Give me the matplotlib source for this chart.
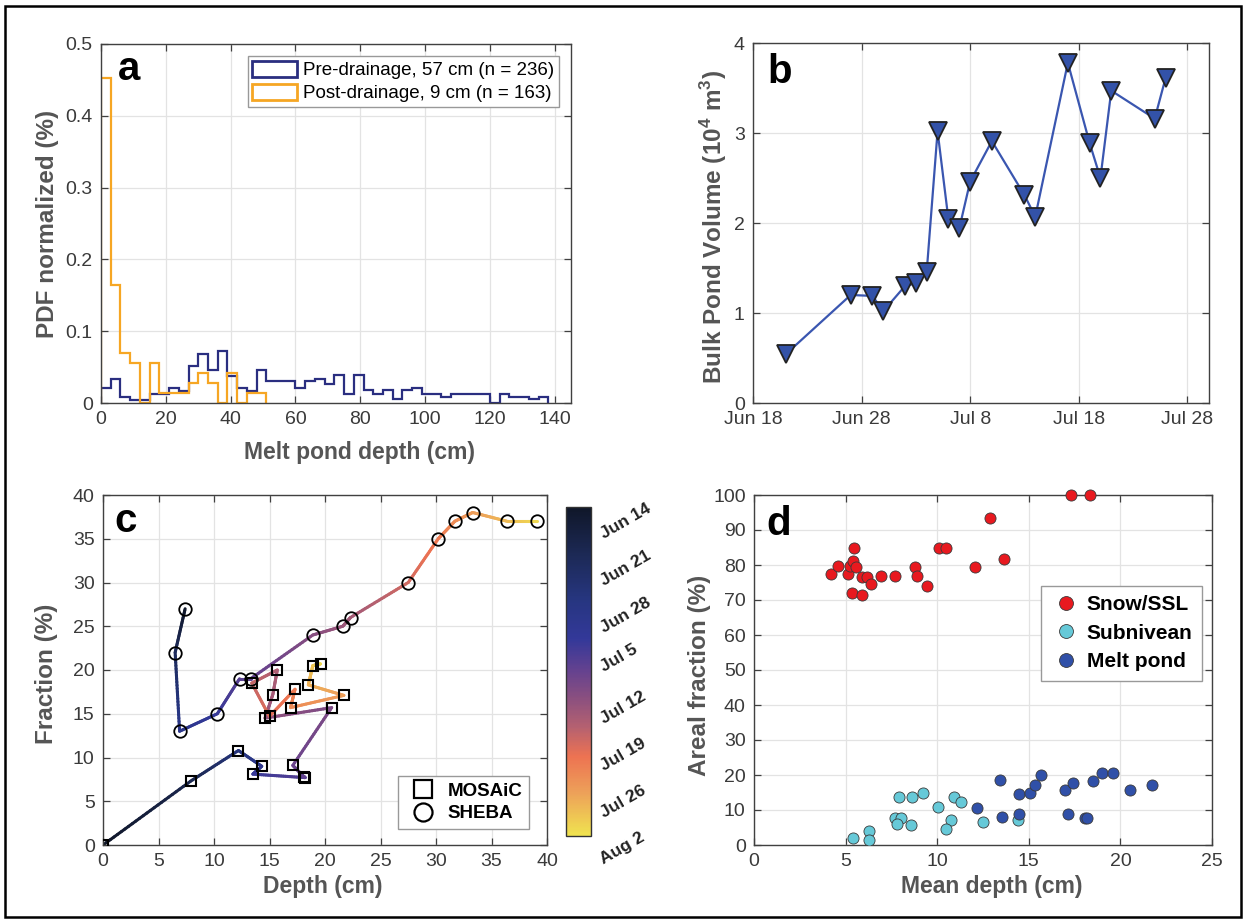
import numpy as np
import matplotlib
matplotlib.use('Agg')
import matplotlib.pyplot as plt
import matplotlib.dates as mdates
from matplotlib.collections import LineCollection
from matplotlib.colors import LinearSegmentedColormap, Normalize
from matplotlib.patches import Rectangle, Patch
from matplotlib.lines import Line2D
from matplotlib.ticker import FuncFormatter
import datetime as dt

plt.rcParams['font.family'] = ['Liberation Sans', 'DejaVu Sans']
plt.rcParams['mathtext.fontset'] = 'custom'
plt.rcParams['mathtext.rm'] = 'Liberation Sans'
plt.rcParams['mathtext.bf'] = 'Liberation Sans:bold'

# ---------------- data ----------------
# panel a: histogram (bin width 3 cm)
bin_width = 3
pre_drainage = [0.021, 0.034, 0.008, 0.004, 0.004, 0.013, 0.013, 0.021, 0.017, 0.051,
                0.068, 0.046, 0.072, 0.038, 0.021, 0.017, 0.046, 0.030, 0.030, 0.030,
                0.021, 0.030, 0.034, 0.026, 0.039, 0.012, 0.039, 0.018, 0.013, 0.018,
                0.005, 0.018, 0.021, 0.013, 0.013, 0.008, 0.013, 0.013, 0.013, 0.013,
                0.0, 0.013, 0.008, 0.008, 0.005, 0.008]
post_drainage = [0.453, 0.165, 0.069, 0.056, 0.0, 0.056, 0.014, 0.014, 0.014, 0.028,
                 0.042, 0.028, 0.0, 0.042, 0.0, 0.014, 0.014]
legend_a = ['Pre-drainage, 57 cm (n = 236)', 'Post-drainage, 9 cm (n = 163)']

# panel b: bulk pond volume
b_dates = ['2020-06-21', '2020-06-27', '2020-06-29', '2020-06-30', '2020-07-02',
           '2020-07-03', '2020-07-04', '2020-07-05', '2020-07-06', '2020-07-07',
           '2020-07-08', '2020-07-10', '2020-07-13', '2020-07-14', '2020-07-17',
           '2020-07-19', '2020-07-20', '2020-07-21', '2020-07-25', '2020-07-26']
b_volume = [0.54, 1.20, 1.19, 1.02, 1.30, 1.33, 1.46, 3.02, 2.04, 1.94,
            2.46, 2.91, 2.31, 2.07, 3.78, 2.89, 2.50, 3.47, 3.16, 3.61]

# panel c: depth vs fraction, colored by days since Jun 14
mosaic_depth = [0.0, 7.9, 12.2, 14.3, 13.5, 18.2, 18.1, 17.1, 20.6, 14.6,
                15.3, 15.7, 13.4, 15.0, 17.3, 16.9, 21.7, 18.5, 18.9, 19.6]
mosaic_frac = [0.0, 7.3, 10.8, 9.0, 8.1, 7.7, 7.8, 9.1, 15.7, 14.5,
               17.2, 20.0, 18.5, 14.7, 17.8, 15.7, 17.1, 18.3, 20.5, 20.7]
mosaic_day = [0, 6, 13, 17, 20, 23, 24, 25, 27, 29,
              31, 32, 34, 36, 38, 40, 42, 44, 46, 48]
sheba_depth = [7.4, 6.5, 6.9, 10.3, 12.3, 13.3, 18.9, 21.6, 22.3, 27.5,
               30.2, 31.7, 33.3, 36.4, 39.1]
sheba_frac = [27, 22, 13, 15, 19, 19, 24, 25, 26, 30, 35, 37, 38, 37, 37]
sheba_day = [0, 8, 16, 20, 23, 24, 28, 30, 31, 35, 38, 40, 42, 45, 48]
cbar_days = [0, 7, 14, 21, 28, 35, 42, 49]
cbar_labels = ['Jun 14', 'Jun 21', 'Jun 28', 'Jul 5', 'Jul 12', 'Jul 19', 'Jul 26', 'Aug 2']

# panel d: areal fraction vs mean depth
snow_depth = [4.23, 4.59, 5.15, 5.23, 5.41, 5.44, 5.55, 5.37, 5.92, 5.92, 6.17, 6.41,
              6.91, 7.68, 8.77, 8.91, 9.46, 10.09, 10.49, 12.07, 12.88, 13.64, 17.3, 18.32]
snow_frac = [77.4, 79.8, 77.4, 79.8, 81.2, 85.0, 79.5, 71.9, 71.4, 76.7, 76.7, 74.6,
             77.0, 76.9, 79.5, 77.0, 74.1, 85.0, 85.0, 79.3, 93.3, 81.6, 100, 100]
sub_depth = [5.41, 6.28, 6.28, 7.89, 8.64, 9.22, 7.68, 8.04, 7.80, 8.58, 10.04,
             10.91, 11.31, 10.73, 10.49, 12.49, 14.42]
sub_frac = [1.9, 4.1, 1.4, 13.6, 13.6, 14.8, 7.6, 7.6, 6.0, 5.7, 11.0,
            13.8, 12.2, 7.1, 4.5, 6.7, 7.1]
pond_depth = [12.15, 13.41, 13.55, 14.46, 14.46, 15.04, 15.36, 15.67, 17.0, 17.4,
              17.12, 18.08, 18.17, 18.53, 18.99, 19.58, 20.54, 21.72]
pond_frac = [10.7, 18.6, 8.1, 14.5, 9.0, 14.8, 17.1, 20.0, 15.7, 17.8,
             9.0, 7.8, 7.6, 18.3, 20.5, 20.7, 15.7, 17.1]

# ---------------- style ----------------
TICK_C = '#3a3a3a'
LAB_C = '#555555'
SPINE_C = '#404040'
GRID_C = '#e3e3e3'
TICK_FS = 14
LAB_FS = 16.5

cmap = LinearSegmentedColormap.from_list('thermal_like', [
    (0.00, (0.06, 0.09, 0.16)),
    (0.14, (0.11, 0.16, 0.33)),
    (0.28, (0.15, 0.21, 0.50)),
    (0.40, (0.20, 0.22, 0.60)),
    (0.50, (0.40, 0.26, 0.56)),
    (0.58, (0.54, 0.31, 0.50)),
    (0.67, (0.71, 0.38, 0.44)),
    (0.76, (0.93, 0.45, 0.32)),
    (0.87, (0.93, 0.63, 0.35)),
    (1.00, (0.94, 0.89, 0.31)),
])
norm = Normalize(0, 49)

fig = plt.figure(figsize=(12.47, 9.23), dpi=100)


def style_axes(ax):
    ax.set_axisbelow(True)
    ax.grid(True, color=GRID_C, lw=0.9)
    ax.tick_params(direction='in', top=True, right=True, length=5, width=0.9,
                   color=SPINE_C, labelcolor=TICK_C, labelsize=TICK_FS, pad=6)
    for s in ax.spines.values():
        s.set_color(SPINE_C)
        s.set_linewidth(1.0)


def panel_letter(ax, x, y, s):
    ax.text(x, y, s, transform=ax.transAxes, fontsize=29, fontweight='bold',
            color='black', va='baseline', ha='left')


# ---------------- panel a ----------------
ax_a = fig.add_axes([101/1247, 1-403/923, 470/1247, 359/923])
style_axes(ax_a)
pre_c = '#2a2e80'
post_c = '#f6a623'
edges_pre = np.arange(len(pre_drainage)+1) * bin_width
edges_post = np.arange(len(post_drainage)+1) * bin_width
ax_a.stairs(pre_drainage, edges_pre, color=pre_c, lw=1.6, baseline=0)
ax_a.stairs(post_drainage, edges_post, color=post_c, lw=1.6, baseline=0)
ax_a.set_xlim(0, 145)
ax_a.set_ylim(0, 0.5)
ax_a.set_xticks(np.arange(0, 141, 20))
ax_a.set_yticks(np.arange(0, 0.51, 0.1))
ax_a.yaxis.set_major_formatter(FuncFormatter(lambda v, p: '0' if v == 0 else f'{v:.1f}'))
ax_a.set_xlabel('Melt pond depth (cm)', fontsize=LAB_FS, fontweight='bold', color=LAB_C)
ax_a.set_ylabel('PDF normalized (%)', fontsize=LAB_FS + 1, fontweight='bold', color=LAB_C)
ax_a.xaxis.set_label_coords(0.55, -0.105)
ax_a.yaxis.set_label_coords(-0.09, 0.5)
handles_a = [Patch(facecolor='none', edgecolor=pre_c, lw=2),
             Patch(facecolor='none', edgecolor=post_c, lw=2)]
leg = ax_a.legend(handles_a, legend_a, loc='upper right', bbox_to_anchor=(0.974, 0.967),
                  borderaxespad=0, fontsize=13.5, fancybox=False, edgecolor='#999999',
                  framealpha=1, handlelength=2.4, handleheight=0.95, handletextpad=0.3,
                  borderpad=0.25, labelspacing=0.25)
leg.get_frame().set_linewidth(1.0)
panel_letter(ax_a, 0.036, 0.90, 'a')

# ---------------- panel b ----------------
ax_b = fig.add_axes([753/1247, 1-403/923, 456/1247, 360/923])
style_axes(ax_b)
dates_b = [dt.datetime.strptime(d, '%Y-%m-%d') for d in b_dates]
ax_b.plot(dates_b, b_volume, '-v', color='#3a56b0', lw=1.6, ms=12.5,
          mfc='#3352a8', mec='#222222', mew=1.3)
ax_b.set_xlim(dt.datetime(2020, 6, 18), dt.datetime(2020, 7, 30))
ax_b.set_ylim(0, 4)
ax_b.set_yticks([0, 1, 2, 3, 4])
ax_b.set_xticks([dt.datetime(2020, 6, 18) + dt.timedelta(days=10*i) for i in range(5)])
ax_b.xaxis.set_major_formatter(FuncFormatter(
    lambda v, p: f"{mdates.num2date(v):%b} {mdates.num2date(v).day}"))
ax_b.set_ylabel(r'Bulk Pond Volume (10$^{\mathbf{4}}$ m$^{\mathbf{3}}$)', fontsize=LAB_FS + 1,
                fontweight='bold', color=LAB_C)
ax_b.yaxis.set_label_coords(-0.052, 0.49)
panel_letter(ax_b, 0.031, 0.889, 'b')

# ---------------- panel c ----------------
ax_c = fig.add_axes([103/1247, 1-845/923, 444/1247, 350/923])
style_axes(ax_c)


def gradient_line(ax, xs, ys, days, lw=2.2, n=24):
    segs, vals = [], []
    for i in range(len(xs)-1):
        for k in range(n):
            t0, t1 = k/n, (k+1)/n
            x0 = xs[i] + (xs[i+1]-xs[i])*t0
            x1 = xs[i] + (xs[i+1]-xs[i])*t1
            y0 = ys[i] + (ys[i+1]-ys[i])*t0
            y1 = ys[i] + (ys[i+1]-ys[i])*t1
            segs.append([(x0, y0), (x1, y1)])
            vals.append(days[i] + (days[i+1]-days[i])*(t0+t1)/2)
    lc = LineCollection(segs, cmap=cmap, norm=norm, linewidths=lw, capstyle='round')
    lc.set_array(np.array(vals))
    ax.add_collection(lc)


gradient_line(ax_c, mosaic_depth, mosaic_frac, mosaic_day)
gradient_line(ax_c, sheba_depth, sheba_frac, sheba_day)
ax_c.plot(mosaic_depth, mosaic_frac, 's', mfc='none', mec='k', ms=7, mew=1.5, zorder=3)
ax_c.plot(sheba_depth, sheba_frac, 'o', mfc='none', mec='k', ms=9, mew=1.3, zorder=3)
ax_c.set_xlim(0, 40)
ax_c.set_ylim(0, 40)
ax_c.set_xticks(np.arange(0, 41, 5))
ax_c.set_yticks(np.arange(0, 41, 5))
ax_c.set_xlabel('Depth (cm)', fontsize=LAB_FS, fontweight='bold', color=LAB_C)
ax_c.set_ylabel('Fraction (%)', fontsize=LAB_FS + 1, fontweight='bold', color=LAB_C)
ax_c.xaxis.set_label_coords(0.495, -0.086)
ax_c.yaxis.set_label_coords(-0.102, 0.49)
handles_c = [Line2D([], [], ls='none', marker='s', mfc='none', mec='k', ms=13, mew=1.6),
             Line2D([], [], ls='none', marker='o', mfc='none', mec='k', ms=13, mew=1.6)]
leg_c = ax_c.legend(handles_c, ['MOSAiC', 'SHEBA'], loc='lower right',
                    bbox_to_anchor=(0.959, 0.046), borderaxespad=0, fancybox=False,
                    edgecolor='#999999', framealpha=1, handletextpad=0.3,
                    borderpad=0.35, labelspacing=0.3, prop={'size': 13.5, 'weight': 'bold'})
leg_c.get_frame().set_linewidth(1.0)
panel_letter(ax_c, 0.025, 0.894, 'c')

# colorbar
cax = fig.add_axes([566/1247, 1-836/923, 25/1247, 329/923])
sm = plt.cm.ScalarMappable(cmap=cmap, norm=norm)
cb = fig.colorbar(sm, cax=cax)
cb.ax.invert_yaxis()
cb.set_ticks(cbar_days)
cb.set_ticklabels(cbar_labels)
cb.ax.tick_params(length=0, pad=5)
for t in cb.ax.get_yticklabels():
    t.set_rotation(30)
    t.set_fontweight('bold')
    t.set_fontsize(12.5)
    t.set_color('#222222')
cb.outline.set_edgecolor('#333333')
cb.outline.set_linewidth(1.0)

# ---------------- panel d ----------------
ax_d = fig.add_axes([754/1247, 1-845/923, 458/1247, 350/923])
style_axes(ax_d)
snow_c = '#e8191f'
sub_c = '#66c9d8'
pond_c = '#3050a8'
ax_d.plot(snow_depth, snow_frac, 'o', color=snow_c, mec='#3a3a3a', mew=0.6, ms=8,
          label='Snow/SSL', clip_on=False, zorder=3)
ax_d.plot(sub_depth, sub_frac, 'o', color=sub_c, mec='#3a3a3a', mew=0.6, ms=8,
          label='Subnivean', zorder=3)
ax_d.plot(pond_depth, pond_frac, 'o', color=pond_c, mec='#3a3a3a', mew=0.6, ms=8,
          label='Melt pond', zorder=3)
ax_d.set_xlim(0, 25)
ax_d.set_ylim(0, 100)
ax_d.set_xticks(np.arange(0, 26, 5))
ax_d.set_yticks(np.arange(0, 101, 10))
ax_d.set_xlabel('Mean depth (cm)', fontsize=LAB_FS, fontweight='bold', color=LAB_C)
ax_d.set_ylabel('Areal fraction (%)', fontsize=LAB_FS + 1, fontweight='bold', color=LAB_C)
ax_d.xaxis.set_label_coords(0.52, -0.086)
ax_d.yaxis.set_label_coords(-0.094, 0.486)
leg_d = ax_d.legend(loc='upper right', bbox_to_anchor=(0.978, 0.74), borderaxespad=0,
                    fancybox=False, edgecolor='#999999', framealpha=1, handletextpad=0.25,
                    handlelength=1.5, borderpad=0.45, labelspacing=0.45, markerscale=1.25,
                    prop={'size': 15, 'weight': 'bold'})
leg_d.get_frame().set_linewidth(1.0)
panel_letter(ax_d, 0.026, 0.886, 'd')

# figure frame
fig.patches.append(Rectangle((5/1247, 1-917/923), (1241-5)/1247, (917-6)/923,
                             transform=fig.transFigure, fill=False, lw=1.8, ec='black'))

fig.savefig('out.png', dpi=100)
